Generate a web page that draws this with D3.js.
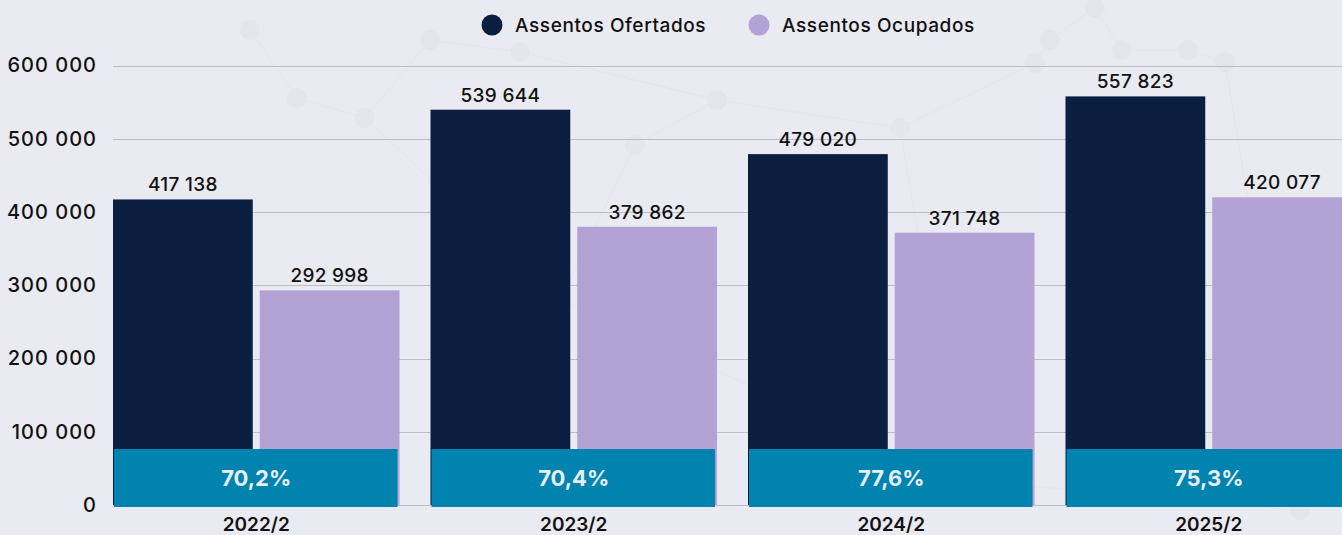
<!DOCTYPE html>
<html>
<head>
<meta charset="utf-8">
<script src="https://cdn.jsdelivr.net/npm/d3@7"></script>
<style>
  html, body { margin: 0; padding: 0; background: #eaeaf2; overflow: hidden; }
  text { font-family: "Inter", "Noto Sans", sans-serif; }
</style>
</head>
<body>
<div id="chart"></div>
<script>
// data
const periods = ["2022/2", "2023/2", "2024/2", "2025/2"];
const seriesNames = ["Assentos Ofertados", "Assentos Ocupados"];
const offered = [417138, 539644, 479020, 557823];
const occupied = [292998, 379862, 371748, 420077];
const yTicks = [0, 100000, 200000, 300000, 400000, 500000, 600000];

const colors = { "Assentos Ofertados": "#0a1e40", "Assentos Ocupados": "#b3a2d4" };

const W = 1342, H = 535;
const svg = d3.select("#chart").append("svg")
    .attr("width", W)
    .attr("height", H);

svg.append("rect").attr("width", W).attr("height", H).attr("fill", "#eaeaf2");

// faint network pattern in the background
const nodes = [[250,30],[297,98],[365,118],[430,40],[520,52],[635,145],[717,100],[900,128],
               [1035,63],[1050,40],[1095,8],[1122,50],[1188,50],[1225,62],[1300,510],[960,480],[560,300]];
const links = [[0,1],[1,2],[2,3],[3,4],[4,6],[5,6],[6,7],[7,8],[8,9],[9,10],[10,11],[11,12],[12,13],
               [5,16],[16,15],[15,14],[13,14],[2,16],[7,15]];
const bg = svg.append("g").attr("opacity", 0.35);
bg.selectAll("line").data(links).enter().append("line")
    .attr("x1", d => nodes[d[0]][0]).attr("y1", d => nodes[d[0]][1])
    .attr("x2", d => nodes[d[1]][0]).attr("y2", d => nodes[d[1]][1])
    .attr("stroke", "#d8d8e2").attr("stroke-width", 0.8);
bg.selectAll("circle").data(nodes).enter().append("circle")
    .attr("cx", d => d[0]).attr("cy", d => d[1]).attr("r", 10)
    .attr("fill", "#dcdce6");

const y = d3.scaleLinear().domain([0, 600000]).range([505, 65.5]);

const x = d3.scaleBand()
    .domain(periods)
    .range([97.5, 1367.5])
    .paddingInner(0.0976)
    .paddingOuter(0.0488);

const xs = d3.scaleBand()
    .domain(seriesNames)
    .range([0, x.bandwidth()])
    .paddingInner(0.0476);

const fmt = v => d3.format(",")(v).replace(/,/g, " ");

// gridlines
svg.append("g").selectAll("line").data(yTicks).enter().append("line")
    .attr("x1", 113).attr("x2", W)
    .attr("y1", d => Math.round(y(d)) + 0.5).attr("y2", d => Math.round(y(d)) + 0.5)
    .attr("stroke", "#bdbdc4").attr("stroke-width", 1);

// y axis labels
const yAxis = svg.append("g")
    .attr("transform", "translate(97,0)")
    .call(d3.axisLeft(y).tickValues(yTicks).tickSize(0).tickPadding(0).tickFormat(fmt));
yAxis.select(".domain").remove();
yAxis.selectAll("text")
    .attr("font-size", 20).attr("font-weight", 500).attr("fill", "#111")
    .style("letter-spacing", "1px");

const rows = periods.map((p, i) => ({
  period: p,
  values: [
    { key: seriesNames[0], value: offered[i] },
    { key: seriesNames[1], value: occupied[i] }
  ],
  rate: occupied[i] / offered[i]
}));

const groups = svg.selectAll(".grp").data(rows).enter().append("g")
    .attr("class", "grp")
    .attr("transform", d => "translate(" + x(d.period) + ",0)");

groups.selectAll("rect.bar").data(d => d.values).enter().append("rect")
    .attr("class", "bar")
    .attr("x", d => xs(d.key))
    .attr("width", xs.bandwidth())
    .attr("y", d => y(d.value))
    .attr("height", d => y(0) - y(d.value))
    .attr("fill", d => colors[d.key]);

groups.selectAll("text.val").data(d => d.values).enter().append("text")
    .attr("class", "val")
    .attr("x", d => xs(d.key) + xs.bandwidth() / 2)
    .attr("y", d => y(d.value) - 8)
    .attr("text-anchor", "middle")
    .attr("font-size", 19).attr("font-weight", 500).attr("fill", "#111")
    .style("letter-spacing", "0.3px")
    .text(d => fmt(d.value));

// occupancy rate box
groups.append("rect")
    .attr("x", 1)
    .attr("width", x.bandwidth() - 3)
    .attr("y", y(0) - 56)
    .attr("height", 58)
    .attr("fill", "#0083ae");

groups.append("text")
    .attr("x", x.bandwidth() / 2)
    .attr("y", y(0) - 27)
    .attr("dy", "0.35em")
    .attr("text-anchor", "middle")
    .attr("font-size", 22).attr("font-weight", 700).attr("fill", "#e6eef5")
    .text(d => d3.format(".1%")(d.rate).replace(".", ","));

// x labels (cut by the bottom edge, as in the reference)
groups.append("text")
    .attr("x", x.bandwidth() / 2)
    .attr("y", 524)
    .attr("dy", "0.35em")
    .attr("text-anchor", "middle")
    .attr("font-size", 19).attr("font-weight", 600).attr("fill", "#111")
    .text(d => d.period);

// legend
const legend = svg.append("g");
const legendX = [492, 759];
seriesNames.forEach((s, i) => {
  legend.append("circle")
      .attr("cx", legendX[i]).attr("cy", 25).attr("r", 10.5)
      .attr("fill", colors[s]);
  legend.append("text")
      .attr("x", legendX[i] + 23).attr("y", 25).attr("dy", "0.35em")
      .attr("font-size", 19).attr("font-weight", 500).attr("fill", "#111")
      .style("letter-spacing", "0.6px")
      .text(s);
});
</script>
</body>
</html>
